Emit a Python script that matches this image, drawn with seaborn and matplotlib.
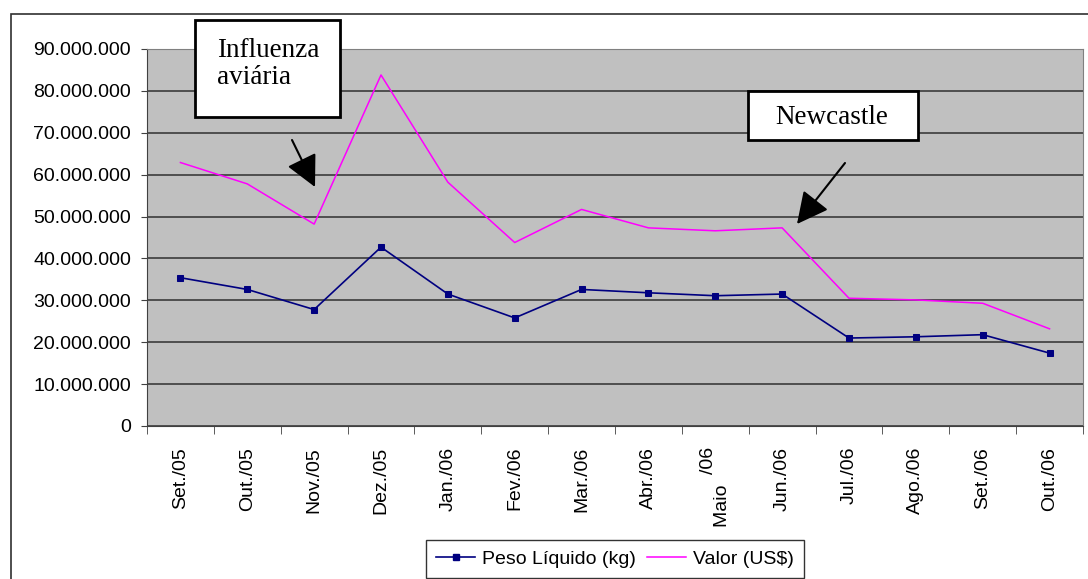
import numpy as np
import matplotlib
matplotlib.use("Agg")
import matplotlib.pyplot as plt
from matplotlib.patches import Rectangle, FancyArrowPatch
from matplotlib.lines import Line2D
import pandas as pd
import seaborn as sns

meses = ['Set./05', 'Out./05', 'Nov./05', 'Dez./05', 'Jan./06', 'Fev./06', 'Mar./06',
         'Abr./06', 'Maio /06', 'Jun./06', 'Jul./06', 'Ago./06', 'Set./06', 'Out./06']
rotulos = ['Set./05', 'Out./05', 'Nov./05', 'Dez./05', 'Jan./06', 'Fev./06', 'Mar./06',
           'Abr./06', '/06\nMaio       ', 'Jun./06', 'Jul./06', 'Ago./06', 'Set./06', 'Out./06']
peso = [35.4e6, 32.6e6, 27.8e6, 42.7e6, 31.5e6, 25.8e6, 32.6e6,
        31.8e6, 31.1e6, 31.5e6, 21.0e6, 21.3e6, 21.8e6, 17.4e6]
valor = [62.9e6, 57.8e6, 48.2e6, 83.8e6, 58.2e6, 43.8e6, 51.7e6,
         47.3e6, 46.6e6, 47.3e6, 30.5e6, 30.1e6, 29.3e6, 23.2e6]
yticks = np.arange(0, 90e6 + 1, 10e6)

df = pd.DataFrame({'pos': np.arange(len(meses)), 'mes': meses, 'peso': peso, 'valor': valor})

plt.rcParams['font.family'] = ['Liberation Sans', 'DejaVu Sans']

W, H = 1088, 579
fig = plt.figure(figsize=(W / 100, H / 100), dpi=100)
fig.patch.set_facecolor('white')
ax = fig.add_axes([147 / W, 1 - 426 / H, (1083 - 147) / W, (426 - 49) / H])
ax.set_facecolor('#C0C0C0')

sns.lineplot(data=df, x='pos', y='peso', ax=ax, color='#000080', lw=1.2,
             marker='s', markersize=5, markeredgecolor='#000080', sort=False,
             label='Peso Líquido (kg)')
sns.lineplot(data=df, x='pos', y='valor', ax=ax, color='#FF00FF', lw=1.1,
             sort=False, label='Valor (US$)')
if ax.get_legend() is not None:
    ax.get_legend().remove()

ax.set_xlim(-0.5, len(meses) - 0.5)
ax.set_ylim(0, 90e6)
ax.set_yticks(yticks)
ax.set_yticklabels(['{:,.0f}'.format(v).replace(',', '.') for v in yticks], fontsize=14)
ax.set_xticks(np.arange(len(meses)))
ax.set_xticklabels(rotulos, rotation=90, fontsize=14, ha='center', va='top',
                   multialignment='right', linespacing=0.75)
ax.set_xticks(np.arange(len(meses) + 1) - 0.5, minor=True)
ax.tick_params(axis='x', which='major', length=0, pad=15)
ax.tick_params(axis='x', which='minor', length=6, direction='out', color='#404040')
ax.tick_params(axis='y', length=4.5, direction='out', color='#404040', pad=7)
ax.set_xlabel('')
ax.set_ylabel('')
ax.grid(axis='y', color='#303030', lw=1.1)
ax.set_axisbelow(True)
for s in ['left', 'bottom']:
    ax.spines[s].set_color('#404040')
for s in ['top', 'right']:
    ax.spines[s].set_color('#808080')

# moldura externa
fig.add_artist(Rectangle((11, -20), 1200, H - 14 + 20, transform=None,
                         fill=False, edgecolor='#303030', lw=1.2))

# legenda
h = [Line2D([], [], color='#000080', lw=1.2, marker='s', markersize=5),
     Line2D([], [], color='#FF00FF', lw=1.1)]
leg = fig.legend(h, ['Peso Líquido (kg)', 'Valor (US$)'], loc='center',
                 bbox_to_anchor=(615 / W, 1 - 559 / H), ncol=2, fontsize=14,
                 frameon=True, fancybox=False, edgecolor='black', handlelength=2,
                 borderpad=0.5, columnspacing=0.6, handletextpad=0.35)
leg.get_frame().set_linewidth(1.0)

# caixas de texto
def caixa(x0, y0, x1, y1):
    fig.add_artist(Rectangle((x0, H - y1), x1 - x0, y1 - y0, transform=None,
                             facecolor='white', edgecolor='black', lw=2, zorder=5))

caixa(195, 20, 340, 117)
fig.text(217 / W, 1 - 38 / H, 'Influenza\naviária', family='Liberation Serif',
         fontsize=19.5, va='top', ha='left', linespacing=1.1, zorder=6)
caixa(748, 91, 918, 140)
fig.text(832 / W, 1 - 117 / H, 'Newcastle', family='Liberation Serif',
         fontsize=19.5, va='center', ha='center', zorder=6)

def seta(x0, y0, x1, y1):
    a = FancyArrowPatch((x0, H - y0), (x1, H - y1), transform=None,
                        arrowstyle='-|>,head_length=0.97,head_width=0.49',
                        mutation_scale=20, color='black', lw=1.5, shrinkA=0, shrinkB=0)
    fig.add_artist(a)

seta(292, 140, 315, 187)
seta(845, 163, 797, 224)

fig.savefig('out.png', dpi=100, facecolor='white')
